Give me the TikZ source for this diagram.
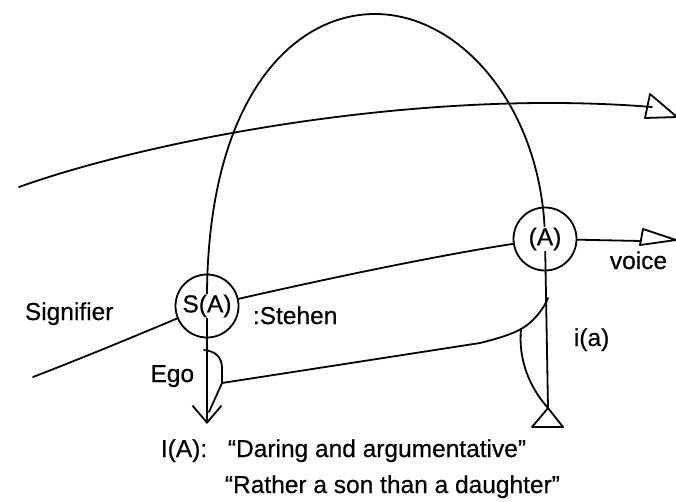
\documentclass[tikz,border=0pt]{standalone}
\usepackage{fontspec}
\setmainfont{Liberation Sans}
\newfontfamily\scanfont{Liberation Sans}[FakeBold=0.5]
\usetikzlibrary{arrows.meta,calc}
\begin{document}
\begin{tikzpicture}[x=1pt,y=-1pt,line width=1.8pt,line cap=round,line join=round,
  ring/.style={circle,draw,minimum size=63pt,inner sep=0pt},
  lbl/.style={font=\scanfont\fontsize{24.5}{28}\selectfont,inner sep=0pt},
  masklbl/.style={lbl,fill=white,inner sep=0.5pt},
  vee/.style={-{Straight Barb[length=17pt,width=29pt,line width=1.8pt]}}]
\useasboundingbox (0,0) rectangle (676,501);
% circles
\node[ring] (sa) at (207,306) {};
\node[ring] (a) at (545,239) {};
% key points
\coordinate (apex) at (375,14);
\coordinate (ustart) at (19,187);
\coordinate (uend) at (652,107);
\coordinate (mstart) at (33,377);
\coordinate (mend) at (641,241);
\coordinate (egotip) at (207,424);
\coordinate (rbot) at (548,408);
\coordinate (egotop) at (204,350);
\coordinate (egoj) at (222,383);
\coordinate (rmid) at (480,343);
\coordinate (rj) at (521,329);
\coordinate (rleg) at (548,298);
% upper signifier curve with open head
\draw (ustart) .. controls (150,140) and (420,88) .. (uend);
\draw (650,94) -- (677,117) -- (645,118) -- cycle;
% middle curve (Signifier -> voice)
\draw (mstart) .. controls (90,355) and (140,334) .. (sa);
\draw (sa) .. controls (330,278) and (440,255) .. (a);
\draw (a) -- (mend);
\draw ($(mend)+(2,-12)$) -- (676,240) -- ($(mend)+(-1,4)$) -- cycle;
% the big arch with its legs
\draw (sa.center) .. controls (205,100) and (292,14) .. (apex)
      .. controls (462,14) and (543,110) .. (a.center);
\draw[vee] (sa.center) -- (egotip);
\draw (a.center) -- (rbot);
\draw (rbot) -- ++(-16,19) -- ++(31,0) -- cycle;
% lower line, Ego hook and i(a) lens
\draw (egotop) .. controls (216,351) and (222,358) .. (222,368) -- (egoj) -- ($(egotip)+(2,-12)$);
\draw (egoj) -- (rmid) .. controls (500,338) and (512,334) .. (rj)
      .. controls (534,322) and (544,308) .. (rleg);
\draw (rj) .. controls (518,360) and (530,388) .. (rbot);
% labels inside circles
\node[masklbl] (tsa) at (sa) {S(A)};
\node[masklbl] (ta) at (a) {(A)};
% other labels
\node[lbl,anchor=base west] (signifier) at (24,320) {Signifier};
\node[lbl,anchor=base west] (stehen) at (252,324) {:Stehen};
\node[lbl,anchor=base east] (ego) at (195,382) {Ego};
\node[lbl,anchor=base west] (ia) at (573,346) {i(a)};
\node[lbl,anchor=base west] (voice) at (609,269) {voice};
\node[lbl,anchor=base west] (IA) at (160,457) {I(A):};
\node[lbl,anchor=base west] (daring) at (227,457) {“Daring and argumentative”};
\node[lbl,anchor=base west] (rather) at (224,493) {“Rather a son than a daughter”};
\end{tikzpicture}
\end{document}
